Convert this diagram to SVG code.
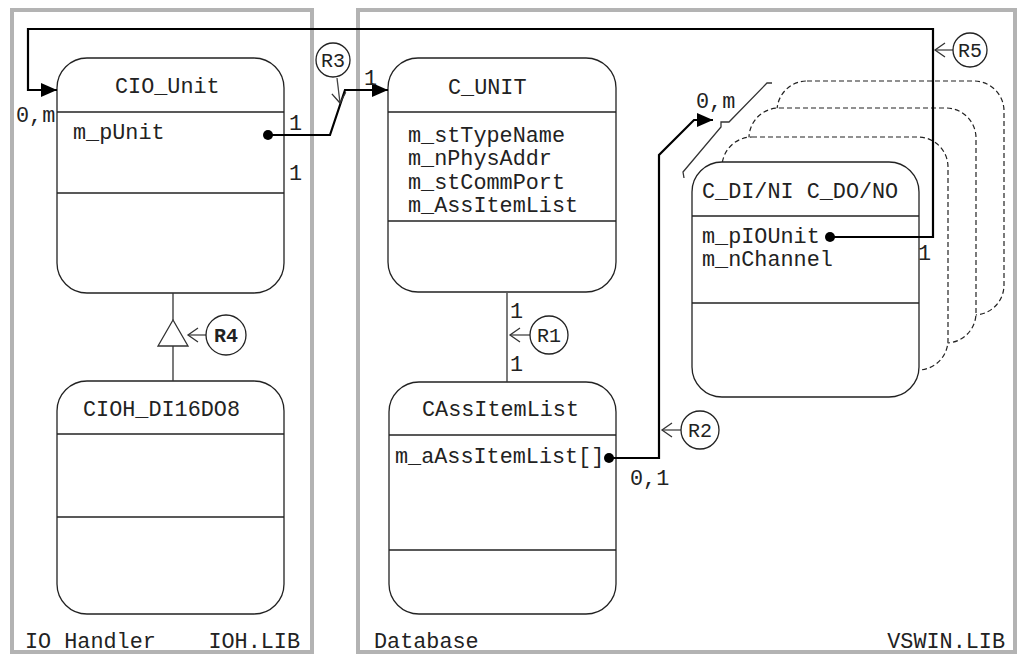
<svg xmlns="http://www.w3.org/2000/svg" width="1021" height="655" viewBox="0 0 1021 655">
<style>
.frame{fill:none;stroke:#b3b3b3;stroke-width:4}
.box{fill:#fff;stroke:#222;stroke-width:1.3}
.shadow{fill:#fff;stroke:#222;stroke-width:1.2;stroke-dasharray:5,3}
.div{stroke:#222;stroke-width:1.3}
.t{font-family:"Liberation Mono","Courier New",monospace;font-size:21.8px;fill:#222}
.rt{font-family:"Liberation Mono","Courier New",monospace;font-size:20px;fill:#222;text-anchor:middle}
.b{font-weight:bold}
.conn{fill:none;stroke:#000;stroke-width:2.2}
.thin{fill:none;stroke:#333;stroke-width:1.3}
.rc{fill:#fff;stroke:#222;stroke-width:1.3}
.rl{fill:none;stroke:#444;stroke-width:1.3}
</style>
<defs>
<marker id="arr" markerUnits="userSpaceOnUse" markerWidth="16" markerHeight="14" refX="16" refY="7" orient="auto">
<path d="M0,0 L16,7 L0,14 z" fill="#000"/>
</marker>
<marker id="open" markerUnits="userSpaceOnUse" markerWidth="14" markerHeight="16" refX="11" refY="7" orient="auto" overflow="visible">
<path d="M1,0 L11,7 L1,14" fill="none" stroke="#333" stroke-width="1.3"/>
</marker>
</defs>
<rect width="1021" height="655" fill="#fff"/>
<g id="pkg-ioh">
<rect class="frame" x="12" y="10" width="300" height="642"/>
<text class="t" x="25" y="648">IO Handler</text>
<text class="t" x="300" y="648" text-anchor="end">IOH.LIB</text>
</g>
<g id="pkg-db">
<rect class="frame" x="358" y="10" width="657" height="642"/>
<text class="t" x="374" y="648">Database</text>
<text class="t" x="1005" y="648" text-anchor="end">VSWIN.LIB</text>
</g>
<g id="CIO_Unit">
<rect class="box" x="57" y="58" width="227" height="235" rx="30"/>
<line class="div" x1="57" y1="112" x2="284" y2="112"/>
<line class="div" x1="57" y1="193" x2="284" y2="193"/>
<text class="t" x="115" y="93">CIO_Unit</text>
<text class="t" x="73" y="139">m_pUnit</text>
</g>
<g id="CIOH_DI16DO8">
<rect class="box" x="57" y="381" width="227" height="233" rx="30"/>
<line class="div" x1="57" y1="434" x2="284" y2="434"/>
<line class="div" x1="57" y1="517" x2="284" y2="517"/>
<text class="t" x="83" y="416">CIOH_DI16DO8</text>
</g>
<g id="C_UNIT">
<rect class="box" x="388" y="58" width="228" height="234" rx="30"/>
<line class="div" x1="388" y1="112" x2="616" y2="112"/>
<line class="div" x1="388" y1="221" x2="616" y2="221"/>
<text class="t" x="448" y="94">C_UNIT</text>
<text class="t" x="408" y="142">m_stTypeName</text>
<text class="t" x="408" y="165">m_nPhysAddr</text>
<text class="t" x="408" y="188.5">m_stCommPort</text>
<text class="t" x="408" y="212">m_AssItemList</text>
</g>
<g id="CAssItemList">
<rect class="box" x="389" y="382" width="227" height="232" rx="30"/>
<line class="div" x1="389" y1="435" x2="616" y2="435"/>
<line class="div" x1="389" y1="550" x2="616" y2="550"/>
<text class="t" x="422" y="416">CAssItemList</text>
<text class="t" x="395" y="463">m_aAssItemList[]</text>
</g>
<g id="C_DI_DO">
<rect class="shadow" x="777" y="81" width="227" height="234" rx="30"/>
<rect class="shadow" x="749" y="108" width="227" height="235" rx="30"/>
<rect class="shadow" x="722" y="137" width="226" height="233" rx="30"/>
<rect class="box" x="692" y="162" width="227" height="235" rx="30"/>
<line class="div" x1="692" y1="216" x2="919" y2="216"/>
<line class="div" x1="692" y1="303" x2="919" y2="303"/>
<text class="t" x="702" y="198">C_DI/NI C_DO/NO</text>
<text class="t" x="702" y="243">m_pIOUnit</text>
<text class="t" x="702" y="266">m_nChannel</text>
</g>
<g id="connectors">
<path class="conn" d="M830,237 H933 V29 H28 V90 H57" marker-end="url(#arr)"/>
<circle cx="830" cy="237" r="5" fill="#000"/>
<path class="conn" d="M268,135 H330 L345,90 H388" marker-end="url(#arr)"/>
<circle cx="268" cy="135" r="5" fill="#000"/>
<path class="conn" d="M609,458 H659 V155 L694,120 H713" marker-end="url(#arr)"/>
<circle cx="609" cy="458" r="5" fill="#000"/>
<path class="thin" d="M684,178 L683,172 L721,127 V122 H729 L767,83 H772"/>
<line class="thin" x1="507" y1="293" x2="507" y2="382"/>
<line class="thin" x1="173" y1="293" x2="173" y2="320"/>
<line class="thin" x1="173" y1="346" x2="173" y2="381"/>
<polygon points="173,320 158,346 188,346" fill="#fff" stroke="#333" stroke-width="1.3"/>
<text class="t" x="16" y="122">0,m</text>
<text class="t" x="289" y="130">1</text>
<text class="t" x="289" y="180">1</text>
<text class="t" x="364" y="85">1</text>
<text class="t" x="918" y="260">1</text>
<text class="t" x="510" y="318">1</text>
<text class="t" x="510" y="371">1</text>
<text class="t" x="630" y="485">0,1</text>
<text class="t" x="696" y="108">0,m</text>
</g>
<g id="R1">
<line class="rl" x1="530" y1="335" x2="510" y2="335" marker-end="url(#open)"/>
<circle class="rc" cx="549" cy="335" r="19"/>
<text class="rt" x="549" y="342">R1</text>
</g>
<g id="R2">
<line class="rl" x1="681" y1="430" x2="662" y2="430" marker-end="url(#open)"/>
<circle class="rc" cx="700" cy="430" r="19"/>
<text class="rt" x="700" y="437">R2</text>
</g>
<g id="R3">
<line class="rl" x1="337" y1="78" x2="340" y2="103" marker-end="url(#open)"/>
<circle class="rc" cx="333" cy="60" r="17"/>
<text class="rt" x="333" y="67">R3</text>
</g>
<g id="R4">
<line class="rl" x1="206" y1="335" x2="188" y2="335" marker-end="url(#open)"/>
<circle class="rc" cx="226" cy="335" r="20"/>
<text class="rt b" x="226" y="342">R4</text>
</g>
<g id="R5">
<line class="rl" x1="953" y1="50" x2="935" y2="50" marker-end="url(#open)"/>
<circle class="rc" cx="970" cy="50" r="17"/>
<text class="rt" x="970" y="57">R5</text>
</g>
</svg>
